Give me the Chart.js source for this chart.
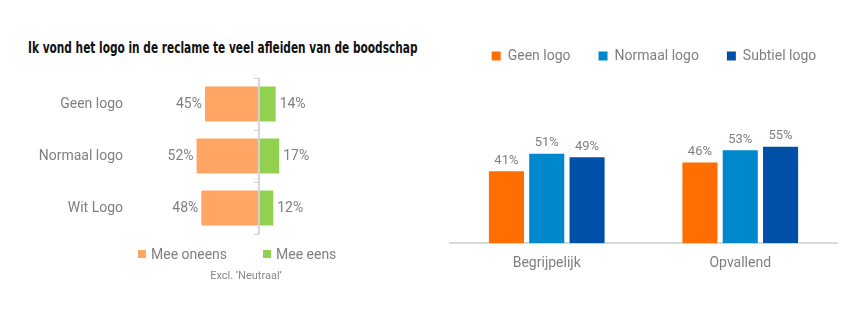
<!DOCTYPE html>
<html lang="nl">
<head>
<meta charset="utf-8">
<title>Logo in de reclame</title>
<script src="https://cdn.jsdelivr.net/npm/chart.js@4.4.1/dist/chart.umd.min.js"></script>
<style>
    body { margin: 0; width: 864px; height: 325px; background: #fff; overflow: hidden; position: relative; font-family: Roboto, sans-serif; }
    #title { position: absolute; left: 28px; top: 38px; font-family: "Liberation Sans Narrow", "DejaVu Sans Condensed", sans-serif; font-weight: bold; font-size: 16px; color: #111; white-space: nowrap; transform: scaleX(0.735); transform-origin: left top; }
    #left-wrap { position: absolute; left: 0; top: 0; width: 471px; height: 325px; }
    #right-wrap { position: absolute; left: 444px; top: 0; width: 420px; height: 325px; }
    .legend-item { position: absolute; top: 246px; font-size: 14px; color: #7f7f7f; line-height: 16px; white-space: nowrap; }
    .legend-item span { display: inline-block; width: 8px; height: 8px; margin-right: 5px; vertical-align: 1px; }
    #note { position: absolute; left: 186px; width: 120px; top: 269px; text-align: center; font-size: 11px; color: #888; }
</style>
</head>
<body>
<div id="title">Ik vond het logo in de reclame te veel afleiden van de boodschap</div>
<div id="left-wrap"><canvas id="leftChart" width="471" height="325"></canvas></div>
<div id="right-wrap"><canvas id="rightChart" width="420" height="325"></canvas></div>
<div class="legend-item" style="left:138px"><span style="background:#FFA664"></span>Mee oneens</div>
<div class="legend-item" style="left:263px"><span style="background:#92D050"></span>Mee eens</div>
<div id="note">Excl. ‘Neutraal’</div>

<script>
// Links: mee oneens / mee eens per logo-variant
const logoVarianten = ['Geen logo', 'Normaal logo', 'Wit Logo'];
const meeOneens = [45, 52, 48];
const meeEens = [14, 17, 12];

// Rechts: beoordeling per logo-variant
const kenmerken = ['Begrijpelijk', 'Opvallend'];
const geenLogo = [41, 46];
const normaalLogo = [51, 53];
const subtielLogo = [49, 55];

const tekstKleur = '#7f7f7f';
Chart.defaults.font.family = 'Roboto, sans-serif';
Chart.defaults.color = tekstKleur;

// Percentages naast / boven de balken
const waardeLabels = {
    id: 'waardeLabels',
    afterDatasetsDraw(chart) {
        const ctx = chart.ctx;
        const horizontaal = chart.options.indexAxis === 'y';
        ctx.save();
        ctx.fillStyle = tekstKleur;
        chart.data.datasets.forEach((ds, i) => {
            chart.getDatasetMeta(i).data.forEach((bar, j) => {
                const waarde = ds.data[j];
                const tekst = Math.abs(waarde) + '%';
                if (horizontaal) {
                    ctx.font = '14px Roboto, sans-serif';
                    ctx.textBaseline = 'middle';
                    ctx.textAlign = waarde < 0 ? 'right' : 'left';
                    ctx.fillText(tekst, bar.x + (waarde < 0 ? -3 : 4), bar.y);
                } else {
                    ctx.font = '13px Roboto, sans-serif';
                    ctx.textBaseline = 'bottom';
                    ctx.textAlign = 'center';
                    ctx.fillText(tekst, bar.x, bar.y - 4);
                }
            });
        });
        ctx.restore();
    }
};

// Middenlijn met kleine streepjes tussen de categorieen
const middenLijn = {
    id: 'middenLijn',
    afterDatasetsDraw(chart) {
        const ctx = chart.ctx;
        const area = chart.chartArea;
        const x0 = chart.scales.x.getPixelForValue(0);
        ctx.save();
        ctx.strokeStyle = '#d4d4d4';
        ctx.lineWidth = 2;
        ctx.beginPath();
        ctx.moveTo(x0, area.top);
        ctx.lineTo(x0, area.bottom);
        ctx.stroke();
        ctx.lineWidth = 1;
        for (let i = 0; i <= logoVarianten.length; i++) {
            const y = Math.round(chart.scales.y.getPixelForValue(i - 0.5)) + 0.5;
            ctx.beginPath();
            ctx.moveTo(x0 - 5, y);
            ctx.lineTo(x0, y);
            ctx.stroke();
        }
        ctx.restore();
    }
};

new Chart(document.getElementById('leftChart'), {
    type: 'bar',
    data: {
        labels: logoVarianten,
        datasets: [
            {
                label: 'Mee oneens',
                data: meeOneens.map(v => -v),
                backgroundColor: '#FFA664',
                barPercentage: 0.84,
                categoryPercentage: 0.8
            },
            {
                label: 'Mee eens',
                data: meeEens,
                backgroundColor: '#92D050',
                barPercentage: 0.84,
                categoryPercentage: 0.8
            }
        ]
    },
    options: {
        indexAxis: 'y',
        responsive: false,
        animation: false,
        layout: { padding: { top: 78, bottom: 91, left: 0, right: 0 } },
        scales: {
            x: {
                stacked: true,
                min: -100,
                max: 177,
                display: false
            },
            y: {
                stacked: true,
                grid: { display: false, drawTicks: false },
                border: { display: false },
                ticks: { padding: 16, font: { size: 14 }, color: tekstKleur },
                afterFit: scale => { scale.width = 139; }
            }
        },
        plugins: {
            legend: { display: false },
            tooltip: { enabled: false }
        }
    },
    plugins: [middenLijn, waardeLabels]
});

// Vaste breedte voor de onzichtbare zij-assen
function vasteBreedte(breedte) {
    return {
        display: true,
        min: 0,
        max: 97,
        grid: { display: false, drawTicks: false },
        border: { display: false },
        ticks: { display: false },
        afterFit: scale => { scale.width = breedte; }
    };
}

const rechtsAs = vasteBreedte(27);
rechtsAs.position = 'right';

new Chart(document.getElementById('rightChart'), {
    type: 'bar',
    data: {
        labels: kenmerken,
        datasets: [
            { label: 'Geen logo', data: geenLogo, backgroundColor: '#FF6E00' },
            { label: 'Normaal logo', data: normaalLogo, backgroundColor: '#0088CC' },
            { label: 'Subtiel logo', data: subtielLogo, backgroundColor: '#0050A8' }
        ]
    },
    options: {
        responsive: false,
        animation: false,
        layout: { padding: { top: 21, bottom: 41, left: 0, right: 0 } },
        datasets: {
            bar: { barPercentage: 0.87, categoryPercentage: 0.625 }
        },
        scales: {
            x: {
                grid: { display: false, drawTicks: false },
                border: { display: true, color: '#d9d9d9', width: 2 },
                ticks: { padding: 12, font: { size: 14 }, color: tekstKleur }
            },
            y: vasteBreedte(6),
            y2: rechtsAs
        },
        plugins: {
            legend: {
                position: 'top',
                labels: {
                    boxWidth: 9,
                    boxHeight: 9,
                    padding: 28,
                    font: { size: 14 },
                    color: tekstKleur
                }
            },
            tooltip: { enabled: false }
        }
    },
    plugins: [waardeLabels]
});
</script>
</body>
</html>
